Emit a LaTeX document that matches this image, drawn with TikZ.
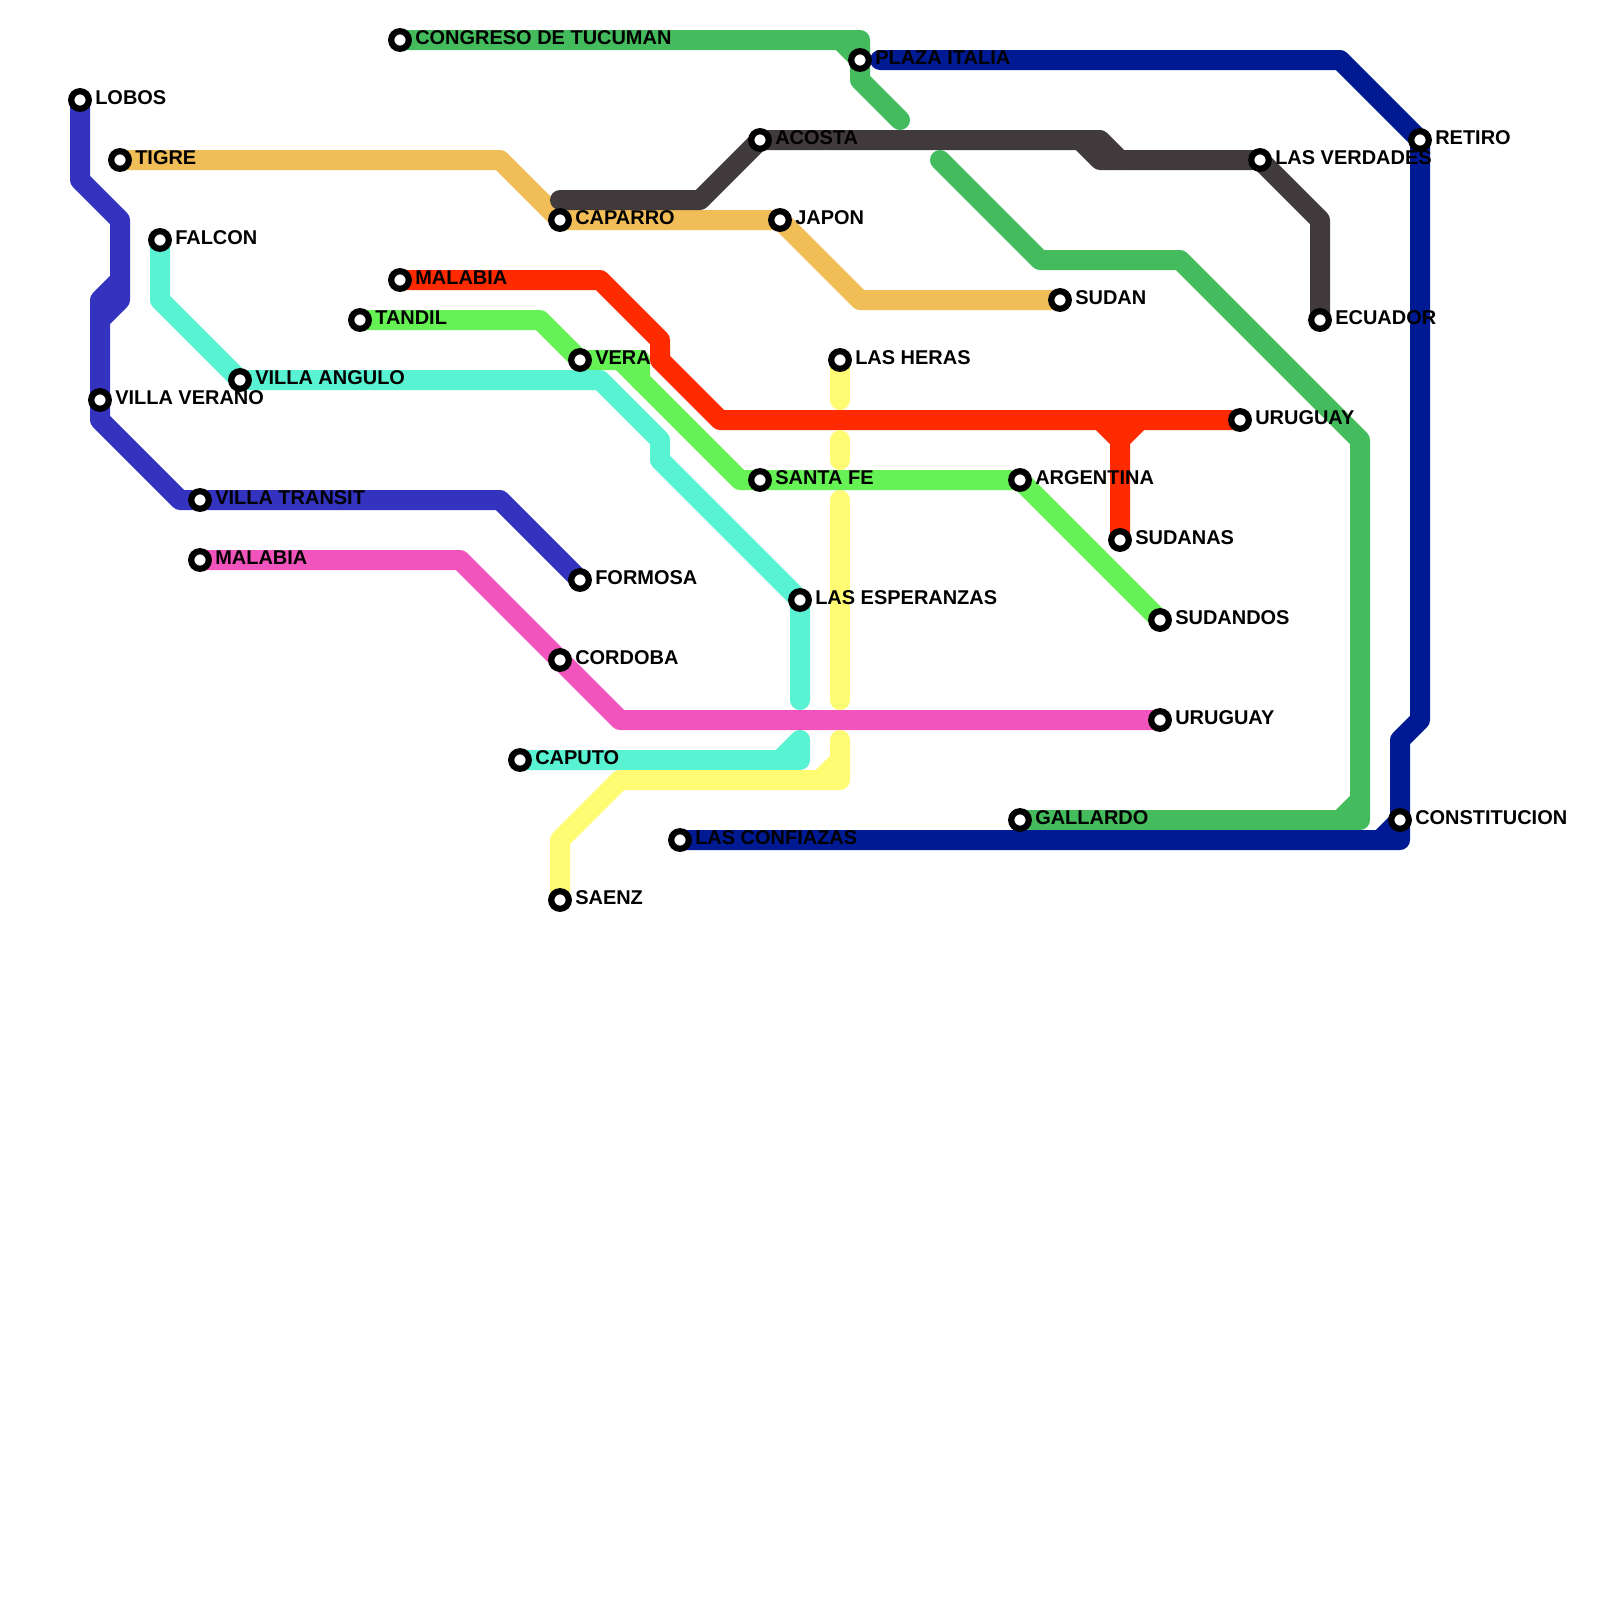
\documentclass[tikz,border=0pt]{standalone}
\usepackage{fontspec}
\setmainfont{Liberation Sans}
\definecolor{lineblue}{HTML}{3333C0}
\definecolor{linenavy}{HTML}{001A94}
\definecolor{linetan}{HTML}{F0BD57}
\definecolor{linegrey}{HTML}{403A3C}
\definecolor{linegreen}{HTML}{44BB5C}
\definecolor{linelime}{HTML}{66F255}
\definecolor{lineteal}{HTML}{58F3D2}
\definecolor{linered}{HTML}{FF2A00}
\definecolor{linepink}{HTML}{F254BD}
\definecolor{lineyellow}{HTML}{FFFB73}
\begin{document}
\begin{tikzpicture}[
        x=0.5cm, y=-0.5cm,
        metroline/.style={line width=0.5cm, line cap=round, line join=round},
        station/.style={circle, draw=black, fill=white, line width=0.155cm, minimum size=0.44cm, inner sep=0pt},
        stationtext/.style={anchor=base west, inner sep=0pt, text=black, font=\fontsize{14.2}{16}\selectfont\bfseries}
    ]
        \useasboundingbox (0, 0) rectangle (80, 80);

        % Stations
        \foreach \name/\xpos/\ypos in {
            congreso/20/2, plaza/43/3, lobos/4/5, tigre/6/8, acosta/38/7, caparro/28/11,
            japon/39/11, falcon/8/12, malabia/20/14, tandil/18/16, vera/29/18,
            angulo/12/19, verano/5/20, transit/10/25, malabiados/10/28, formosa/29/29,
            cordoba/28/33, esperanzas/40/30, heras/42/18, santafe/38/24, argentina/51/24,
            sudan/53/15, verdades/63/8, retiro/71/7, ecuador/66/16, uruguay/62/21,
            sudanas/56/27, sudandos/58/31, uruguaydos/58/36, caputo/26/38, gallardo/51/41,
            constitucion/70/41, confiazas/34/42, saenz/28/45}
            \coordinate (\name) at (\xpos, \ypos);

        % Free ends of the lines
        \coordinate (blueA) at (6, 14);
        \coordinate (blueB) at (5, 15);
        \coordinate (navyA) at (44, 3);
        \coordinate (navyB) at (69, 42);
        \coordinate (greyA) at (28, 10);
        \coordinate (greyB) at (54, 7);
        \coordinate (greyC) at (55, 8);
        \coordinate (greenA) at (45, 6);
        \coordinate (greenB) at (47, 8);
        \coordinate (greenC) at (42, 2);
        \coordinate (greenD) at (67, 41);
        \coordinate (greenE) at (68, 40);
        \coordinate (redA) at (55, 21);
        \coordinate (redB) at (57, 21);
        \coordinate (redC) at (56, 22);
        \coordinate (limeA) at (31, 18);
        \coordinate (limeB) at (32, 19);
        \coordinate (tealA) at (40, 35);
        \coordinate (tealB) at (40, 37);
        \coordinate (tealC) at (39, 38);
        \coordinate (yellowA) at (42, 20);
        \coordinate (yellowB) at (42, 22);
        \coordinate (yellowC) at (42, 23);
        \coordinate (yellowD) at (42, 25);
        \coordinate (yellowE) at (42, 35);
        \coordinate (yellowF) at (42, 37);
        \coordinate (yellowG) at (41, 39);
        \coordinate (yellowH) at (42, 38);

        % Lines
        \draw[metroline, lineblue] (lobos) -- (4, 9) -- (6, 11) -- (6, 15) -- (5, 16) -- (verano) -- (5, 21) -- (9, 25) -- (transit) -- (25, 25) -- (formosa);
        \draw[metroline, lineblue] (blueA) -- (blueB) -- (5, 16);
        \draw[metroline, linetan] (tigre) -- (25, 8) -- (caparro) -- (japon) -- (43, 15) -- (sudan);
        \draw[metroline, linegrey] (greyA) -- (35, 10) -- (acosta) -- (55, 7) -- (56, 8) -- (verdades) -- (66, 11) -- (ecuador);
        \draw[metroline, linegrey] (greyB) -- (greyC) -- (56, 8);
        \draw[metroline, linegreen] (congreso) -- (43, 2) -- (plaza) -- (43, 4) -- (greenA);
        \draw[metroline, linegreen] (greenC) -- (plaza);
        \draw[metroline, linegreen] (greenB) -- (52, 13) -- (59, 13) -- (68, 22) -- (68, 41) -- (gallardo);
        \draw[metroline, linegreen] (greenD) -- (greenE);
        \draw[metroline, linelime] (tandil) -- (27, 16) -- (vera) -- (32, 18) -- (limeB) -- (37, 24) -- (santafe) -- (argentina) -- (sudandos);
        \draw[metroline, linelime] (limeA) -- (limeB);
        \draw[metroline, lineteal] (falcon) -- (8, 15) -- (angulo) -- (30, 19) -- (33, 22) -- (33, 23) -- (esperanzas) -- (tealA);
        \draw[metroline, lineteal] (caputo) -- (40, 38) -- (tealB) -- (tealC);
        \draw[metroline, linered] (malabia) -- (30, 14) -- (33, 17) -- (33, 18) -- (36, 21) -- (uruguay);
        \draw[metroline, linered] (redA) -- (redC) -- (sudanas);
        \draw[metroline, linered] (redB) -- (redC);
        \draw[metroline, linepink] (malabiados) -- (23, 28) -- (cordoba) -- (31, 36) -- (uruguaydos);
        \draw[metroline, lineyellow] (heras) -- (yellowA);
        \draw[metroline, lineyellow] (yellowB) -- (yellowC);
        \draw[metroline, lineyellow] (yellowD) -- (yellowE);
        \draw[metroline, lineyellow] (yellowF) -- (42, 39) -- (31, 39) -- (28, 42) -- (saenz);
        \draw[metroline, lineyellow] (yellowG) -- (yellowH);
        \draw[metroline, linenavy] (navyA) -- (67, 3) -- (retiro) -- (71, 36) -- (70, 37) -- (70, 42) -- (confiazas);
        \draw[metroline, linenavy] (navyB) -- (constitucion);

        % Station markers and names
        \foreach \name in {
            congreso, plaza, lobos, tigre, acosta, caparro, japon, falcon, malabia,
            tandil, vera, angulo, verano, transit, malabiados, formosa, cordoba,
            esperanzas, heras, santafe, argentina, sudan, verdades, retiro, ecuador, uruguay,
            sudanas, sudandos, uruguaydos, caputo, gallardo, constitucion, confiazas, saenz}
            \node[station] (\name dot) at (\name) {};
        \foreach \name/\stationname in {
            congreso/CONGRESO DE TUCUMAN, plaza/PLAZA ITALIA, lobos/LOBOS, tigre/TIGRE,
            acosta/ACOSTA, caparro/CAPARRO, japon/JAPON, falcon/FALCON, malabia/MALABIA,
            tandil/TANDIL, vera/VERA, angulo/VILLA ANGULO, verano/VILLA VERANO,
            transit/VILLA TRANSIT, malabiados/MALABIA, formosa/FORMOSA, cordoba/CORDOBA,
            esperanzas/LAS ESPERANZAS, heras/LAS HERAS, santafe/SANTA FE, argentina/ARGENTINA,
            sudan/SUDAN, verdades/LAS VERDADES, retiro/RETIRO, ecuador/ECUADOR, uruguay/URUGUAY,
            sudanas/SUDANAS, sudandos/SUDANDOS, uruguaydos/URUGUAY, caputo/CAPUTO,
            gallardo/GALLARDO, constitucion/CONSTITUCION, confiazas/LAS CONFIAZAS, saenz/SAENZ}
            \node[stationtext] (\name text) at ([shift={(0.75, 0.21)}]\name) {\stationname};
    \end{tikzpicture}
\end{document}
